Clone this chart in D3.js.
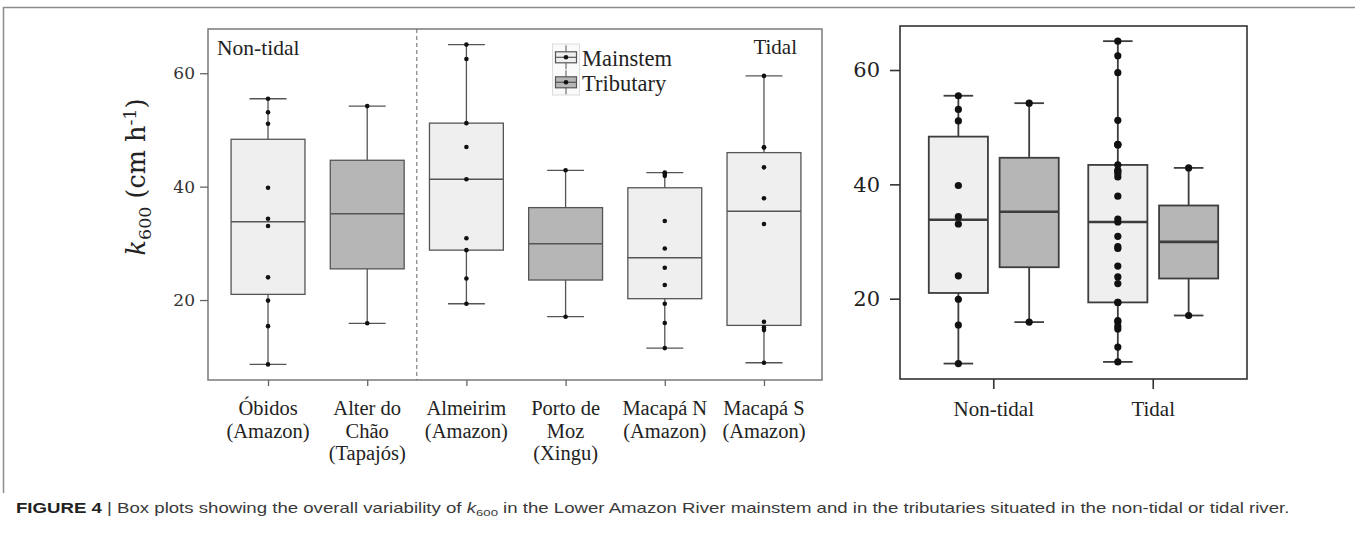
<!DOCTYPE html>
<html>
<head>
<meta charset="utf-8">
<script src="https://cdn.jsdelivr.net/npm/d3@7"></script>
<style>
    body { margin: 0; background: #fff; }
    svg { display: block; }
</style>
</head>
<body>
<div id="chart"></div>
<script>
// sites along the river, left panel
const siteLabels = [
    ["Óbidos", "(Amazon)"],
    ["Alter do", "Chão", "(Tapajós)"],
    ["Almeirim", "(Amazon)"],
    ["Porto de", "Moz", "(Xingu)"],
    ["Macapá N", "(Amazon)"],
    ["Macapá S", "(Amazon)"]
];
const siteType = ["Mainstem", "Tributary", "Mainstem", "Tributary", "Mainstem", "Mainstem"];
const siteZone = ["Non-tidal", "Non-tidal", "Tidal", "Tidal", "Tidal", "Tidal"];

// box stats: [min, q1, median, q3, max]
const siteStats = [
    [8.65, 21.0, 33.8, 48.35, 55.5],
    [15.9, 25.5, 35.2, 44.65, 54.2],
    [19.35, 28.8, 41.3, 51.2, 65.05],
    [17.06, 23.53, 29.94, 36.3, 42.88],
    [11.53, 20.24, 27.47, 39.8, 42.47],
    [8.94, 15.53, 35.65, 46.0, 59.53]
];

// k600 points per site (tributaries only show the whisker ends)
const obidosPts = [55.5, 53.1, 51.1, 39.8, 34.35, 33.06, 24.0, 19.9, 15.4, 8.65];
const alterPts = [54.2, 15.9];
const almeirimPts = [65.05, 62.5, 51.2, 47.0, 41.3, 30.9, 28.8, 23.8, 19.35];
const portoPts = [42.88, 17.06];
const macapaNPts = [42.47, 42.3, 41.9, 33.94, 29.1, 25.7, 22.65, 19.35, 15.94, 11.53];
const macapaSPts = [59.53, 46.94, 46.9, 43.4, 37.94, 33.41, 16.17, 15.18, 14.7, 8.94];
const sitePoints = [obidosPts, alterPts, almeirimPts, portoPts, macapaNPts, macapaSPts];

const zones = ["Non-tidal", "Tidal"];
const types = ["Mainstem", "Tributary"];
const yTicks = [20, 40, 60];

const fills = { Mainstem: "#efefef", Tributary: "#b6b6b6" };

const svg = d3.select("#chart").append("svg")
    .attr("width", 1355)
    .attr("height", 536);

// figure frame
svg.append("path")
    .attr("d", "M3.5,493 V7.5 H1355")
    .attr("fill", "none")
    .attr("stroke", "#8c8c8c")
    .attr("stroke-width", 1.5);

function quartiles(vals) {
    const s = vals.slice().sort(d3.ascending);
    return [d3.min(s), d3.quantile(s, 0.25), d3.quantile(s, 0.5), d3.quantile(s, 0.75), d3.max(s)];
}

function drawBox(g, cx, w, st, y, fill, stroke, lw, medW) {
    const capW = w / 2;
    g.append("line")
        .attr("x1", cx).attr("x2", cx)
        .attr("y1", y(st[4])).attr("y2", y(st[0]))
        .attr("stroke", stroke).attr("stroke-width", lw);
    [st[0], st[4]].forEach(v => {
        g.append("line")
            .attr("x1", cx - capW / 2).attr("x2", cx + capW / 2)
            .attr("y1", y(v)).attr("y2", y(v))
            .attr("stroke", stroke).attr("stroke-width", lw);
    });
    g.append("rect")
        .attr("x", cx - w / 2).attr("width", w)
        .attr("y", y(st[3])).attr("height", y(st[1]) - y(st[3]))
        .attr("fill", fill)
        .attr("stroke", stroke).attr("stroke-width", lw);
    g.append("line")
        .attr("x1", cx - w / 2).attr("x2", cx + w / 2)
        .attr("y1", y(st[2])).attr("y2", y(st[2]))
        .attr("stroke", stroke).attr("stroke-width", medW);
}

function drawDots(g, cx, pts, y, r) {
    g.selectAll(null)
        .data(pts)
        .enter().append("circle")
        .attr("cx", cx)
        .attr("cy", d => y(d))
        .attr("r", r)
        .attr("fill", "#111");
}

// ---------- left panel ----------
const L = { left: 208, right: 822, top: 29, bottom: 380 };
const gL = svg.append("g");

const xL = d3.scalePoint()
    .domain(d3.range(siteLabels.length))
    .range([210, L.right])
    .padding(0.585);

const yL = d3.scaleLinear()
    .domain([5.9, 67.8])
    .range([L.bottom, L.top]);

gL.append("rect")
    .attr("x", L.left).attr("y", L.top)
    .attr("width", L.right - L.left).attr("height", L.bottom - L.top)
    .attr("fill", "none")
    .attr("stroke", "#7a7a7a")
    .attr("stroke-width", 1.5);

// boundary between non-tidal and tidal sites
const splitX = (xL(1) + xL(2)) / 2;
gL.append("line")
    .attr("x1", splitX).attr("x2", splitX)
    .attr("y1", L.top).attr("y2", L.bottom)
    .attr("stroke", "#666")
    .attr("stroke-width", 1)
    .attr("stroke-dasharray", "4,3");

const boxWL = xL.step() * 0.745;
siteStats.forEach((st, i) => {
    drawBox(gL, xL(i), boxWL, st, yL, fills[siteType[i]], "#555", 1.3, 1.5);
    drawDots(gL, xL(i), sitePoints[i], yL, 2.3);
});

const yAxisL = gL.append("g")
    .attr("transform", `translate(${L.left},0)`)
    .call(d3.axisLeft(yL).tickValues(yTicks).tickSize(8).tickPadding(5));
yAxisL.select(".domain").remove();
yAxisL.selectAll("line").attr("stroke", "#666").attr("stroke-width", 1.3);
yAxisL.selectAll("text")
    .attr("font-family", "DejaVu Serif")
    .attr("font-size", 17)
    .attr("fill", "#333");

const xAxisL = gL.append("g")
    .attr("transform", `translate(0,${L.bottom})`)
    .call(d3.axisBottom(xL).tickSize(6).tickFormat(""));
xAxisL.select(".domain").remove();
xAxisL.selectAll("line").attr("stroke", "#666").attr("stroke-width", 1.3);

siteLabels.forEach((lines, i) => {
    const t = gL.append("text")
        .attr("text-anchor", "middle")
        .attr("font-family", "Liberation Serif")
        .attr("font-size", 20.5)
        .attr("fill", "#222");
    lines.forEach((s, j) => {
        t.append("tspan")
            .attr("x", xL(i))
            .attr("y", 415 + j * 22.7)
            .text(s);
    });
});

// y title k600 (cm h-1)
const yTitle = gL.append("text")
    .attr("transform", "translate(145,177) rotate(-90)")
    .attr("text-anchor", "middle")
    .attr("font-family", "DejaVu Serif")
    .attr("font-size", 25.5)
    .attr("fill", "#222");
yTitle.append("tspan").attr("font-style", "italic").text("k");
yTitle.append("tspan").attr("font-size", 17.5).attr("dy", 6).text("600");
yTitle.append("tspan").attr("dy", -6).text(" (cm h");
yTitle.append("tspan").attr("font-size", 17.5).attr("dy", -9).text("-1");
yTitle.append("tspan").attr("dy", 9).text(")");

gL.append("text")
    .attr("x", 217).attr("y", 55)
    .attr("font-family", "Liberation Serif")
    .attr("font-size", 21.5)
    .attr("fill", "#222")
    .text(zones[0]);
gL.append("text")
    .attr("x", 797).attr("y", 54)
    .attr("text-anchor", "end")
    .attr("font-family", "Liberation Serif")
    .attr("font-size", 21)
    .attr("fill", "#222")
    .text(zones[1]);

// legend
const leg = gL.append("g");
leg.append("rect")
    .attr("x", 552.5).attr("y", 44)
    .attr("width", 27).attr("height", 51)
    .attr("fill", "#fafafa")
    .attr("stroke", "#dcdcdc");
types.forEach((t, i) => {
    const cy = 57.3 + i * 25;
    const cx = 566;
    leg.append("line")
        .attr("x1", cx).attr("x2", cx)
        .attr("y1", cy - 12).attr("y2", cy + 12)
        .attr("stroke", "#555").attr("stroke-width", 1);
    leg.append("rect")
        .attr("x", cx - 10.5).attr("y", cy - 5.5)
        .attr("width", 21).attr("height", 11)
        .attr("fill", fills[t])
        .attr("stroke", "#555").attr("stroke-width", 1.2);
    leg.append("line")
        .attr("x1", cx - 10.5).attr("x2", cx + 10.5)
        .attr("y1", cy).attr("y2", cy)
        .attr("stroke", "#555").attr("stroke-width", 1.2);
    leg.append("circle")
        .attr("cx", cx).attr("cy", cy).attr("r", 2.3)
        .attr("fill", "#111");
    leg.append("text")
        .attr("x", 582).attr("y", cy + 9)
        .attr("font-family", "Liberation Serif")
        .attr("font-size", 22.5)
        .attr("fill", "#222")
        .text(t);
});

// ---------- right panel ----------
const R = { left: 900, right: 1247, top: 26, bottom: 379 };
const gR = svg.append("g");

const xR = d3.scaleBand()
    .domain(zones)
    .range([R.left, R.right])
    .paddingInner(0)
    .paddingOuter(0.088);

const xSub = d3.scaleBand()
    .domain(types)
    .range([0, xR.bandwidth()])
    .paddingInner(0)
    .paddingOuter(0.126);

const yR = d3.scaleLinear()
    .domain([5.95, 67.7])
    .range([R.bottom, R.top]);

// pooled groups
const tidalMainPts = almeirimPts.concat(macapaNPts, macapaSPts);
const groups = [
    { zone: "Non-tidal", type: "Mainstem", stats: siteStats[0], pts: obidosPts },
    { zone: "Non-tidal", type: "Tributary", stats: siteStats[1], pts: alterPts },
    { zone: "Tidal", type: "Mainstem", stats: quartiles(tidalMainPts), pts: tidalMainPts },
    { zone: "Tidal", type: "Tributary", stats: siteStats[3], pts: portoPts }
];

gR.append("rect")
    .attr("x", R.left).attr("y", R.top)
    .attr("width", R.right - R.left).attr("height", R.bottom - R.top)
    .attr("fill", "none")
    .attr("stroke", "#333")
    .attr("stroke-width", 1.6);

const boxWR = xSub.bandwidth() * 0.835;
groups.forEach(gr => {
    const cx = xR(gr.zone) + xSub(gr.type) + xSub.bandwidth() / 2;
    drawBox(gR, cx, boxWR, gr.stats, yR, fills[gr.type], "#3d3d3d", 1.8, 2.6);
    drawDots(gR, cx, gr.pts, yR, 3.6);
});

const yAxisR = gR.append("g")
    .attr("transform", `translate(${R.left},0)`)
    .call(d3.axisLeft(yR).tickValues(yTicks).tickSize(10).tickPadding(10));
yAxisR.select(".domain").remove();
yAxisR.selectAll("line").attr("stroke", "#333").attr("stroke-width", 1.6);
yAxisR.selectAll("text")
    .attr("font-family", "DejaVu Serif")
    .attr("font-size", 21)
    .attr("fill", "#222");

const xAxisR = gR.append("g")
    .attr("transform", `translate(0,${R.bottom})`)
    .call(d3.axisBottom(xR).tickSize(10).tickPadding(12));
xAxisR.select(".domain").remove();
xAxisR.selectAll("line").attr("stroke", "#333").attr("stroke-width", 1.6);
xAxisR.selectAll("text")
    .attr("font-family", "Liberation Serif")
    .attr("font-size", 21)
    .attr("fill", "#222")
    .attr("dy", null)
    .attr("y", 37);

// ---------- caption ----------
// the source figure's caption is set wide, so stretch it horizontally
const cap = svg.append("g")
    .attr("transform", "translate(16,513) scale(1.34,1)")
    .append("text")
    .attr("font-family", "Liberation Sans")
    .attr("font-size", 13.9)
    .attr("fill", "#3a3a3a");
cap.append("tspan").attr("font-weight", "bold").attr("fill", "#222").text("FIGURE 4");
cap.append("tspan").text(" | Box plots showing the overall variability of ");
cap.append("tspan").attr("font-style", "italic").text("k");
cap.append("tspan").attr("font-size", 9.8).attr("dy", 3).text("600");
cap.append("tspan").attr("dy", -3).text(" in the Lower Amazon River mainstem and in the tributaries situated in the non-tidal or tidal river.");
</script>
</body>
</html>
